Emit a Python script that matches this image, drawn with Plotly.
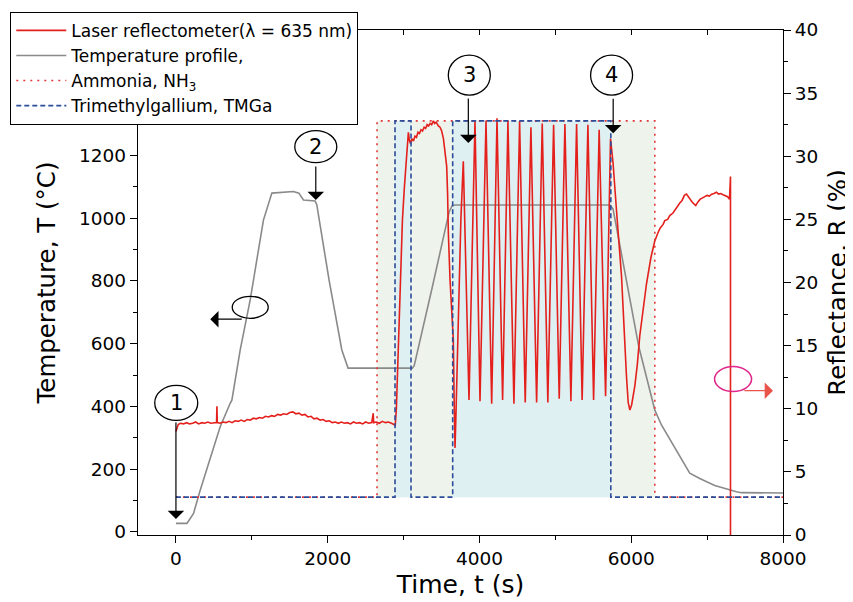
import plotly.graph_objects as go

# ---------------- data ----------------
temp_t = [0, 145, 232, 320, 452, 583, 715, 737, 847, 978, 1153, 1264, 1548, 1620, 1680,
          1834, 1856, 2020, 2186, 2268, 3115, 3140, 3378, 3600, 3640, 3680, 5718, 5760,
          6100, 6311, 6400, 6600, 6771, 6903, 7100, 7387, 7450, 8000]
temp_c = [27, 27, 59, 133, 235, 335, 410, 420, 580, 739, 994, 1080, 1085, 1080, 1058,
          1055, 1043, 800, 580, 522, 522, 530, 780, 1020, 1040, 1042, 1042, 1030,
          590, 388, 340, 255, 187, 170, 148, 128, 125, 124]

refl_t = [0, 30, 60, 100, 140, 180, 220, 260, 300, 340, 380, 420, 460, 500, 535, 540, 545,
          580, 620, 660, 700, 740, 780, 820, 860, 900, 940, 980, 1020, 1060, 1100, 1140,
          1180, 1220, 1260, 1300, 1340, 1380, 1420, 1460, 1500, 1540, 1580, 1620, 1660,
          1700, 1740, 1780, 1820, 1860, 1900, 1940, 1980, 2020, 2060, 2100, 2140, 2180,
          2220, 2260, 2300, 2340, 2380, 2420, 2460, 2500, 2540, 2580, 2600, 2605, 2640,
          2680, 2720, 2760, 2800, 2840, 2880,
          2890, 2905, 2920, 2940, 2960, 2985, 3010, 3035, 3055, 3063, 3075, 3090, 3110,
          3130, 3150, 3170, 3190, 3210, 3230, 3250, 3270, 3290, 3310, 3330, 3350, 3370,
          3393, 3410, 3430, 3458, 3480, 3502, 3525, 3546, 3568, 3580, 3590, 3612, 3625,
          3640, 3655, 3668, 3678, 3690, 3720, 3755, 3787,
          3862, 3941, 4007, 4086, 4161, 4231, 4305, 4375, 4454, 4529, 4603, 4678, 4753,
          4827, 4901, 4977, 5051, 5126, 5205, 5280, 5353, 5429, 5504, 5577, 5662, 5727,
          5760, 5806, 5872, 5938, 5960, 5982, 6005, 6047, 6080, 6113, 6160, 6201, 6260,
          6311, 6350, 6380, 6420, 6442, 6480, 6508, 6550, 6580, 6610, 6640, 6670, 6700,
          6728, 6750, 6770, 6800, 6830, 6850, 6881, 6910, 6940, 6970, 7000, 7030, 7060,
          7090, 7123, 7150, 7180, 7210, 7240, 7270, 7295, 7308, 7308]
refl_r = [8.2, 8.75, 8.85, 8.8, 8.9, 8.8, 8.85, 8.95, 8.8, 8.9, 8.85, 8.95, 8.85, 8.9, 8.9,
          10.2, 8.9, 8.85, 8.95, 8.9, 9.0, 8.9, 9.05, 9.0, 9.1, 9.0, 9.15, 9.1, 9.25, 9.2,
          9.3, 9.25, 9.4, 9.35, 9.45, 9.4, 9.55, 9.5, 9.6, 9.55, 9.7, 9.75, 9.6, 9.65, 9.5,
          9.55, 9.35, 9.4, 9.2, 9.25, 9.1, 9.15, 9.0, 9.05, 8.9, 8.95, 8.85, 8.95, 8.85,
          8.9, 8.8, 8.95, 8.85, 8.9, 8.8, 8.95, 8.85, 8.9, 9.65, 8.9, 8.95, 8.85, 9.0, 8.9,
          8.95, 8.85, 8.7,
          8.7, 10.0, 13.0, 17.0, 21.0, 25.0, 27.5, 29.8, 31.2, 31.9, 31.3, 31.0, 31.4,
          31.2, 31.6, 31.5, 31.9, 31.8, 32.1, 32.0, 32.3, 32.2, 32.5, 32.4, 32.6, 32.5,
          32.8, 32.6, 32.7, 32.4, 32.3, 32.0, 31.4, 30.5, 29.2, 27.0, 23.9, 20.2, 18.8,
          18.2, 15.5, 10.0, 6.9, 9.5, 17.0, 25.0, 29.6,
          10.7, 32.8, 10.6, 32.8, 10.4, 33.0, 10.7, 32.8, 10.4, 32.8, 10.5, 32.3, 10.5,
          32.6, 10.5, 32.5, 10.8, 32.55, 10.6, 32.55, 10.7, 32.5, 10.7, 32.1, 11.0, 31.4,
          29.5, 25.7, 20.5, 12.5, 10.5, 9.9, 10.3, 11.8, 13.5, 15.8, 18.2, 19.9, 22.0,
          23.3, 23.9, 24.3, 24.6, 24.9, 25.0, 25.3, 25.5, 25.8, 26.0, 26.3, 26.5, 26.9,
          27.0, 26.8, 26.6, 26.4, 26.2, 26.1, 26.4, 26.6, 26.7, 26.8, 26.9, 26.85, 27.0,
          27.05, 27.15, 27.0, 27.05, 26.95, 26.9, 26.8, 26.6, 28.4, 0.0]

nh3_t = [0, 2650, 2650, 6311, 6311, 8000]
nh3_r = [3.0, 3.0, 32.8, 32.8, 3.0, 3.0]
tmga_t = [0, 2887, 2887, 3098, 3098, 3647, 3647, 5731, 5731, 8000]
tmga_r = [3.0, 3.0, 32.8, 32.8, 3.0, 3.0, 32.8, 32.8, 3.0, 3.0]

x_range = [-500, 8000]
x_ticks = [0, 2000, 4000, 6000, 8000]
temp_range = [-10, 1600]
temp_ticks = [0, 200, 400, 600, 800, 1000, 1200]
refl_range = [0, 40]
refl_ticks = [0, 5, 10, 15, 20, 25, 30, 35, 40]

# numbered markers (circle centre) and their arrows (tip)
marker_labels = ["1", "2", "3", "4"]
marker_t = [4, 1843, 3866, 5741]
marker_T = [411, 1228, 1456, 1456]
marker_w = [43, 42, 42, 42]
marker_h = [35, 32, 40, 40]
arrow_t = [0, 1843, 3853, 5762]
arrow_T = [41, 1058, 1240, 1271]
arrow_len = [98, 35, 46, 36]

FONT = "DejaVu Sans, Arial, sans-serif"
RED = "#e4201d"
GRAY = "#8a8a8a"
BLUE = "#2b4c9b"
NH3RED = "#e0383a"
GREEN_FILL = "#eef4ec"
BLUE_FILL = "#dff0f2"

fig = go.Figure()

fig.add_trace(go.Scatter(x=temp_t, y=temp_c, mode="lines", name="Temperature profile,",
                         line=dict(color=GRAY, width=1.6), legendrank=2))
fig.add_trace(go.Scatter(x=refl_t, y=refl_r, yaxis="y2", mode="lines",
                         name="Laser reflectometer(λ = 635 nm)",
                         line=dict(color=RED, width=1.6), legendrank=1))
fig.add_trace(go.Scatter(x=nh3_t, y=nh3_r, yaxis="y2", mode="lines", name="Ammonia, NH<sub>3</sub>",
                         line=dict(color=NH3RED, width=1.6, dash="2px,5px"), legendrank=3))
fig.add_trace(go.Scatter(x=tmga_t, y=tmga_r, yaxis="y2", mode="lines", name="Trimethylgallium, TMGa",
                         line=dict(color=BLUE, width=1.6, dash="5px,3px"), legendrank=4))
# top mirror axis carrier
fig.add_trace(go.Scatter(x=x_range, y=[None, None], xaxis="x2", mode="lines",
                         showlegend=False, hoverinfo="skip"))

annotations = []
shapes = []

# gas-on shading, below all traces (each pulse = 4 step points: up, up, down, down)
for i in range(1, len(nh3_t) - 1, 4):
    shapes.append(dict(type="rect", xref="x", yref="y2", layer="below",
                       x0=nh3_t[i], x1=nh3_t[i + 2], y0=nh3_r[i], y1=nh3_r[i + 1],
                       fillcolor=GREEN_FILL, line=dict(width=0)))
for i in range(1, len(tmga_t) - 1, 4):
    shapes.append(dict(type="rect", xref="x", yref="y2", layer="below",
                       x0=tmga_t[i], x1=tmga_t[i + 2], y0=tmga_r[i], y1=tmga_r[i + 1],
                       fillcolor=BLUE_FILL, line=dict(width=0)))

for lab, t, T, w, h in zip(marker_labels, marker_t, marker_T, marker_w, marker_h):
    shapes.append(dict(type="circle", xref="x", yref="y", xsizemode="pixel", ysizemode="pixel",
                       xanchor=t, yanchor=T, x0=-w / 2, x1=w / 2, y0=-h / 2, y1=h / 2,
                       line=dict(color="black", width=1.3)))
    annotations.append(dict(x=t, y=T, xref="x", yref="y", text=lab, showarrow=False,
                            font=dict(family=FONT, size=21, color="black")))
for t, T, L in zip(arrow_t, arrow_T, arrow_len):
    annotations.append(dict(x=t, y=T, xref="x", yref="y", text="", showarrow=True,
                            ax=0, ay=-L, arrowhead=1, arrowsize=2.3, arrowwidth=1.2,
                            arrowcolor="black", standoff=0))

# axis indicator ellipses
shapes.append(dict(type="circle", xref="x", yref="y", xsizemode="pixel", ysizemode="pixel",
                   xanchor=979, yanchor=716, x0=-18, x1=18, y0=-11, y1=11,
                   line=dict(color="black", width=1.3)))
annotations.append(dict(x=452, y=678, xref="x", yref="y", text="", showarrow=True,
                        ax=33, ay=0, arrowhead=1, arrowsize=2.3, arrowwidth=1.2,
                        arrowcolor="black", standoff=0))
shapes.append(dict(type="circle", xref="x", yref="y", xsizemode="pixel", ysizemode="pixel",
                   xanchor=7342, yanchor=487, x0=-18.5, x1=18.5, y0=-12.5, y1=12.5,
                   line=dict(color="#e0258b", width=1.5)))
annotations.append(dict(x=7868, y=450, xref="x", yref="y", text="", showarrow=True,
                        ax=-30, ay=0, arrowhead=1, arrowsize=2.3, arrowwidth=1.2,
                        arrowcolor="#e8544a", standoff=0))

axis_common = dict(showgrid=False, zeroline=False, showline=True, linecolor="black",
                   linewidth=1.3, tickcolor="black", tickwidth=1.2,
                   tickfont=dict(family=FONT, size=18.5, color="black"))

# the page adds an 8 px body margin, so the figure is 8 px smaller and shifted
fig.update_layout(
    width=845, height=594,
    margin=dict(l=130, r=70, t=22, b=67, autoexpand=False),
    paper_bgcolor="white", plot_bgcolor="white",
    font=dict(family=FONT, color="black"),
    showlegend=True,
    legend=dict(x=-0.198, y=1.036, xanchor="left", yanchor="top",
                bgcolor="white", bordercolor="black", borderwidth=1,
                font=dict(family=FONT, size=17, color="black"),
                tracegroupgap=0, itemwidth=50),
    xaxis=dict(range=x_range, tickvals=x_ticks, ticks="outside", ticklen=7,
               minor=dict(dtick=1000, tick0=0, ticks="outside", ticklen=4, tickcolor="black"),
               title=dict(text="Time, t (s)", font=dict(family=FONT, size=25), standoff=7),
               **axis_common),
    xaxis2=dict(range=x_range, overlaying="x", side="top", tick0=0, dtick=1000,
                ticks="inside", ticklen=5, showticklabels=False,
                **axis_common),
    yaxis=dict(range=temp_range, tickvals=temp_ticks, ticks="outside", ticklen=7,
               minor=dict(dtick=100, tick0=0, ticks="outside", ticklen=4, tickcolor="black"),
               title=dict(text="Temperature, T (°C)", font=dict(family=FONT, size=24.5), standoff=16),
               **axis_common),
    yaxis2=dict(range=refl_range, overlaying="y", side="right", tickvals=refl_ticks,
                ticks="outside", ticklen=7,
                minor=dict(dtick=2.5, tick0=0, ticks="outside", ticklen=4, tickcolor="black"),
                title=dict(text="Reflectance, R (%)", font=dict(family=FONT, size=24.5), standoff=11),
                **axis_common),
    shapes=shapes,
    annotations=annotations,
)

fig.write_html("out.html")
